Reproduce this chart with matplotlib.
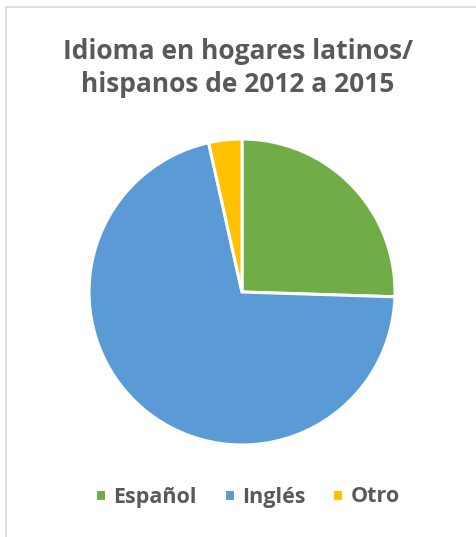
import matplotlib
matplotlib.use("Agg")
import matplotlib.pyplot as plt
from matplotlib.lines import Line2D

categories = ["Español", "Inglés", "Otro"]
values = [25.5, 71.0, 3.5]
colors = ["#70AD47", "#5B9BD5", "#FFC000"]
title = "Idioma en hogares latinos/\nhispanos de 2012 a 2015"

plt.rcParams['font.family'] = ['Open Sans', 'DejaVu Sans']

W, H = 476, 537
fig = plt.figure(figsize=(W / 100, H / 100), dpi=100)
fig.lines.append(Line2D([5.5 / W, 1.0], [1 - 6.5 / H, 1 - 6.5 / H], transform=fig.transFigure,
                        color="#D9D9D9", linewidth=1.2))
fig.lines.append(Line2D([5.5 / W, 5.5 / W], [0.0, 1 - 6.5 / H], transform=fig.transFigure,
                        color="#D9D9D9", linewidth=1.2))

cx, cy, r = 242, 292, 153
ax = fig.add_axes([(cx - r) / W, 1 - (cy + r) / H, (2 * r) / W, (2 * r) / H])
wedges, _ = ax.pie(values, colors=colors, startangle=90, counterclock=False,
                   wedgeprops=dict(edgecolor="white", linewidth=2.2))
ax.set_xlim(-1, 1)
ax.set_ylim(-1, 1)
ax.set_aspect("equal")
ax.axis("off")

fig.text(0.5, 1 - 68 / H, title, ha="center", va="center", fontsize=19,
         fontweight="bold", color="#595959", linespacing=1.25)

leg = fig.legend(wedges, categories, loc="center", bbox_to_anchor=(0.52, 1 - 497 / H),
                 ncol=3, frameon=False, fontsize=15.5, handlelength=0.5, handleheight=0.5,
                 handletextpad=0.35, columnspacing=1.25)
for t in leg.get_texts():
    t.set_color("#595959")
    t.set_fontweight("bold")

fig.savefig("out.png", dpi=100)
